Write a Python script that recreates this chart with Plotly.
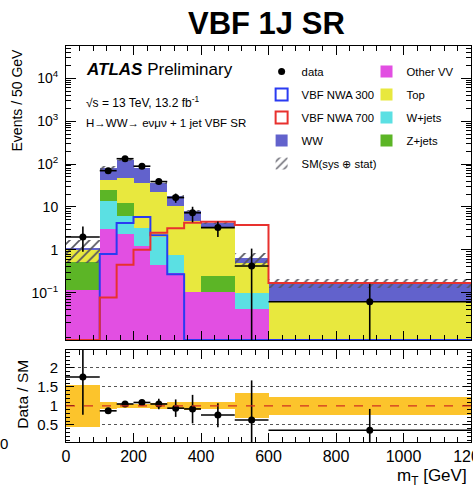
import numpy as np
import plotly.graph_objects as go

# ---------------- data ----------------
edges = [0, 100, 150, 200, 250, 300, 350, 400, 500, 600, 1200]

other_vv = [0.116, 3.1, 2.3, 1.2, 0.45, 0.29, 0.106, 0.106, 0.042, 0.0]
w_jets = [0.0, 10.3, 3.7, 2.1, 1.55, 0.47, 0.0, 0.0, 0.055, 0.0]
z_jets = [0.40, 11.6, 6.5, 0.0, 0.0, 0.0, 0.0, 0.134, 0.0, 0.0]
top = [0.48, 18.0, 35.5, 33.7, 20.0, 9.54, 4.49, 3.26, 0.403, 0.062]
ww = [0.13, 38.0, 79.0, 45.0, 15.0, 7.3, 3.3, 0.8, 0.15, 0.108]

nwa300 = [0.0, 0.8, 4.2, 5.8, 2.2, 0.27, 0.0, 0.0, 0.0, 0.0]
nwa700 = [0.0, 0.078, 0.45, 1.0, 2.5, 3.2, 4.3, 4.5, 3.8, 0.17]

data = [2.0, 70.0, 133.0, 89.0, 39.0, 16.5, 7.3, 3.3, 0.42, 0.062]
data_err_up = [1.5, 6.0, 9.0, 7.0, 5.0, 4.0, 2.8, 1.3, 0.65, 0.10]
data_err_dn = [1.1, 6.0, 9.0, 7.0, 5.0, 4.0, 2.9, 1.3, 0.4195, 0.0619]

unc_up = [0.54, 0.09, 0.06, 0.06, 0.07, 0.09, 0.10, 0.09, 0.33, 0.24]
unc_dn = [0.55, 0.09, 0.06, 0.06, 0.07, 0.09, 0.10, 0.09, 0.33, 0.23]

ratio = [1.76, 0.87, 1.05, 1.09, 1.05, 0.94, 0.92, 0.76, 0.63, 0.36]
ratio_err_up = [1.0, 0.06, 0.06, 0.07, 0.14, 0.23, 0.37, 0.31, 1.04, 0.56]
ratio_err_dn = [0.99, 0.06, 0.06, 0.07, 0.14, 0.23, 0.38, 0.32, 0.63, 0.36]

main_tickvals = [0.1, 1, 10, 100, 1000, 10000]
main_ticktext = ["10<sup>\u22121</sup>", "1", "10", "10<sup>2</sup>", "10<sup>3</sup>", "10<sup>4</sup>"]
x_tickvals = [0, 200, 400, 600, 800, 1000, 1200]
ratio_tickvals = [0.5, 1, 1.5, 2]
ratio_ticktext = ["0.5", "1", "1.5", "2"]

# ---------------- derived ----------------
e = np.array(edges, float)
centers = (e[:-1] + e[1:]) / 2
widths = np.diff(e)
total = np.sum([other_vv, w_jets, z_jets, top, ww], axis=0)
up = np.array(unc_up)
dn = np.array(unc_dn)

YLOG = [-2.1, 4.75]
ymin_val = 10 ** YLOG[0]

FONT = "Liberation Sans, Arial, Helvetica, sans-serif"
C_VV = "#E24FE2"
C_TOP = "#E8E83E"
C_W = "#5BE0E3"
C_Z = "#5CB526"
C_WW = "#6262CC"
C_300 = "#2A3BF2"
C_700 = "#E8312E"
C_BAND = "#FCC42C"

fig = go.Figure()

stack = [
    ("Other VV", other_vv, C_VV, 2),
    ("W+jets", w_jets, C_W, 4),
    ("Z+jets", z_jets, C_Z, 5),
    ("Top", top, C_TOP, 3),
    ("WW", ww, C_WW, 40),
]
for name, vals, col, rank in stack:
    fig.add_trace(go.Bar(
        x=centers, y=vals, width=widths, name=name,
        marker=dict(color=col, line=dict(width=0)),
        legend="legend" if name == "WW" else "legend2",
        legendrank=rank, legendgroup=name,
        xaxis="x", yaxis="y", hoverinfo="skip",
    ))

# uncertainty hatch (explicit base -> drawn in overlay mode)
fig.add_trace(go.Bar(
    x=centers, y=total * (up + dn), base=total * (1 - dn), width=widths,
    name="SM(sys \u2295 stat)", legend="legend", legendrank=50, legendgroup="sm",
    marker=dict(color="rgba(0,0,0,0)", line=dict(width=0),
                pattern=dict(shape="/", fillmode="replace", fgcolor="#55555f",
                             bgcolor="rgba(0,0,0,0)", size=7, solidity=0.24)),
    xaxis="x", yaxis="y", hoverinfo="skip",
))

# signal step lines
for name, vals, col, rank in [("VBF NWA 300", nwa300, C_300, 20), ("VBF NWA 700", nwa700, C_700, 30)]:
    v = np.array(vals, float)
    v = np.where(v > 0, v, ymin_val)
    fig.add_trace(go.Scatter(
        x=e, y=np.append(v, v[-1]), mode="lines", line=dict(color=col, width=2, shape="hv"),
        showlegend=False, xaxis="x", yaxis="y", hoverinfo="skip",
    ))
    fig.add_trace(go.Bar(
        x=[None], y=[None], name=name, legend="legend", legendrank=rank, legendgroup=name,
        marker=dict(color="white", line=dict(color=col, width=2)),
        xaxis="x", yaxis="y",
    ))

# data
fig.add_trace(go.Scatter(
    x=centers, y=data, mode="markers", name="data", legend="legend", legendrank=10,
    legendgroup="data",
    marker=dict(color="black", size=7),
    error_y=dict(type="data", symmetric=False, array=data_err_up, arrayminus=data_err_dn,
                 color="black", thickness=1.6, width=0),
    error_x=dict(type="data", array=widths / 2, color="black", thickness=1.6, width=0),
    xaxis="x", yaxis="y", hoverinfo="skip",
))

# ratio band
fig.add_trace(go.Bar(
    x=centers, y=up + dn, base=1 - dn, width=widths, showlegend=False,
    marker=dict(color=C_BAND, line=dict(width=0)),
    xaxis="x2", yaxis="y2", hoverinfo="skip",
))
fig.add_trace(go.Scatter(
    x=centers, y=ratio, mode="markers", showlegend=False,
    marker=dict(color="black", size=7),
    error_y=dict(type="data", symmetric=False, array=ratio_err_up, arrayminus=ratio_err_dn,
                 color="black", thickness=1.6, width=0),
    error_x=dict(type="data", array=widths / 2, color="black", thickness=1.6, width=0),
    xaxis="x2", yaxis="y2", hoverinfo="skip",
))

minor_log = [k * 10.0 ** n for n in range(-3, 5) for k in range(2, 10)]

axis_common = dict(showline=True, linecolor="black", linewidth=1, mirror="allticks",
                   ticks="inside", tickcolor="black", zeroline=False, showgrid=False)

fig.update_layout(
    width=473, height=491,
    margin=dict(l=66, r=2, t=46, b=49, autoexpand=False),
    paper_bgcolor="white", plot_bgcolor="white",
    barmode="stack", bargap=0,
    font=dict(family=FONT, color="black"),
    xaxis=dict(domain=[0, 1], anchor="y", range=[0, 1200], tickvals=x_tickvals,
               showticklabels=False, ticklen=9,
               minor=dict(dtick=40, tick0=0, ticklen=5, ticks="inside", tickcolor="black"),
               **axis_common),
    yaxis=dict(domain=[0.2576, 1], anchor="x", type="log", range=YLOG,
               tickvals=main_tickvals, ticktext=main_ticktext, ticklen=10,
               tickfont=dict(size=14), ticklabelstandoff=4,
               minor=dict(tickvals=minor_log, ticklen=5, ticks="inside", tickcolor="black"),
               **axis_common),
    xaxis2=dict(domain=[0, 1], anchor="y2", range=[0, 1200], tickvals=x_tickvals,
                ticklen=9, tickfont=dict(size=16), matches="x", ticklabeloverflow="allow",
                minor=dict(dtick=40, tick0=0, ticklen=5, ticks="inside", tickcolor="black"),
                **axis_common),
    yaxis2=dict(domain=[0, 0.2323], anchor="x2", range=[0.05, 2.47],
                tickvals=ratio_tickvals, ticktext=ratio_ticktext, ticklen=8,
                tickfont=dict(size=15), ticklabelstandoff=4,
                minor=dict(dtick=0.1, tick0=0, ticklen=4, ticks="inside", tickcolor="black"),
                showline=True, linecolor="black", linewidth=1, mirror="allticks",
                ticks="inside", tickcolor="black", zeroline=False,
                showgrid=True, gridcolor="#555555", griddash="dot", gridwidth=1),
    legend=dict(x=0.483, y=0.972, xanchor="left", yanchor="top", bgcolor="rgba(0,0,0,0)",
                font=dict(size=11.3, family=FONT), traceorder="grouped", tracegroupgap=4,
                itemclick=False, itemdoubleclick=False),
    legend2=dict(x=0.742, y=0.972, xanchor="left", yanchor="top", bgcolor="rgba(0,0,0,0)",
                 font=dict(size=11.3, family=FONT), traceorder="grouped", tracegroupgap=4,
                 itemclick=False, itemdoubleclick=False),
    shapes=[dict(type="line", xref="x2 domain", yref="y2", x0=0, x1=1, y0=1, y1=1,
                 line=dict(color="#D03020", width=1.2, dash="dash"), layer="above")],
)

ann = [
    dict(text="<b>VBF 1J SR</b>", x=0.494, y=1.058, font=dict(size=31), xanchor="center", yanchor="middle"),
    dict(text="<b><i>ATLAS</i></b> Preliminary", x=0.044, y=0.9394, font=dict(size=17), xanchor="left", yanchor="middle"),
    dict(text="\u221As = 13 TeV, 13.2 fb<sup>-1</sup>", x=0.044, y=0.8586, font=dict(size=12), xanchor="left", yanchor="middle"),
    dict(text="H\u2192WW\u2192 e\u03bd\u03bc\u03bd + 1 jet VBF SR", x=0.044, y=0.8056, font=dict(size=11.5), xanchor="left", yanchor="middle"),
    dict(text="Events / 50 GeV", x=-0.121, y=1.0, textangle=-90, font=dict(size=14), xanchor="center", yanchor="top"),
    dict(text="Data / SM", x=-0.108, y=0.12, textangle=-90, font=dict(size=15.5), xanchor="center", yanchor="middle"),
    dict(text="m<sub>T</sub> [GeV]", x=0.995, y=-0.088, font=dict(size=17), xanchor="right", yanchor="middle"),
    dict(text="0", x=-0.153, y=-0.005, font=dict(size=15), xanchor="center", yanchor="middle"),
]
for a in ann:
    a.update(xref="paper", yref="paper", showarrow=False)
fig.update_layout(annotations=ann)

fig.write_html("out.html", config={"displayModeBar": False},
               post_script="document.body.style.margin='0';")
